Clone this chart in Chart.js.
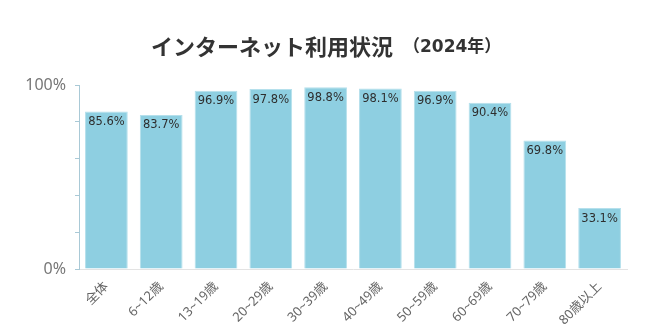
<!DOCTYPE html>
<html>
<head>
<meta charset="utf-8">
<script src="https://cdn.jsdelivr.net/npm/chart.js@4"></script>
<style>
  html, body { margin: 0; padding: 0; background: #fff; }
  #wrap { width: 650px; height: 336px; }
</style>
</head>
<body>
<div id="wrap"><canvas id="usageChart" width="650" height="336"></canvas></div>
<script>
// カテゴリと値
var ageGroups = ['全体', '6~12歳', '13~19歳', '20~29歳', '30~39歳', '40~49歳', '50~59歳', '60~69歳', '70~79歳', '80歳以上'];
var usageRate = [85.6, 83.7, 96.9, 97.8, 98.8, 98.1, 96.9, 90.4, 69.8, 33.1];
var yTickLabels = { 0: '0%', 100: '100%' };

var FONT = "'Noto Sans', 'Noto Sans CJK JP', sans-serif";
var NUMFONT = "'DejaVu Sans', 'Noto Sans CJK JP', sans-serif";

// タイトル（大きさが2種類あるので自前で描く）
var titlePlugin = {
    id: 'titlePlugin',
    afterDraw: function (chart) {
        var ctx = chart.ctx;
        ctx.save();
        ctx.fillStyle = '#333';
        ctx.textBaseline = 'middle';
        var main = 'インターネット利用状況';
        var sub = '（2024年）';
        ctx.font = "bold 22px 'Noto Sans CJK JP', sans-serif";
        ctx.fillText(main, 151, 47);
        ctx.font = "bold 17px " + NUMFONT;
        ctx.fillText(sub, 403, 48);
        ctx.restore();
    }
};

// 棒の中に値を描く
var valueLabels = {
    id: 'valueLabels',
    afterDatasetsDraw: function (chart) {
        var ctx = chart.ctx;
        var meta = chart.getDatasetMeta(0);
        ctx.save();
        ctx.fillStyle = '#2e2e2e';
        ctx.font = "500 11.5px " + NUMFONT;
        ctx.textAlign = 'center';
        ctx.textBaseline = 'middle';
        meta.data.forEach(function (bar, i) {
            ctx.fillText(usageRate[i].toFixed(1) + '%', bar.x, bar.y + 10.5);
        });
        ctx.restore();
    }
};

new Chart(document.getElementById('usageChart'), {
    type: 'bar',
    data: {
        labels: ageGroups,
        datasets: [{
            data: usageRate,
            backgroundColor: '#8ecfe1',
            borderColor: '#b5e0ec',
            borderWidth: 1,
            categoryPercentage: 0.78,
            barPercentage: 1
        }]
    },
    options: {
        responsive: false,
        animation: false,
        layout: { padding: { top: 85, right: 23, left: 0, bottom: 0 } },
        plugins: {
            legend: { display: false },
            title: { display: false },
            tooltip: { enabled: false }
        },
        scales: {
            x: {
                grid: { display: false },
                border: { color: '#e3e3e3', width: 1 },
                ticks: {
                    color: '#666',
                    font: { family: FONT, size: 13 },
                    maxRotation: 45,
                    minRotation: 45,
                    padding: 2
                },
                afterFit: function (scale) { scale.height = 67; }
            },
            y: {
                min: 0,
                max: 100,
                grid: {
                    drawOnChartArea: false,
                    tickLength: 4,
                    color: '#a9c9d6'
                },
                border: { color: '#a9c9d6', width: 1 },
                ticks: {
                    stepSize: 20,
                    color: '#777',
                    font: { family: FONT, size: 16 },
                    padding: 9,
                    callback: function (v) { return yTickLabels[v] !== undefined ? yTickLabels[v] : ''; }
                },
                afterFit: function (scale) { scale.width = 79; }
            }
        }
    },
    plugins: [titlePlugin, valueLabels]
});
</script>
</body>
</html>
